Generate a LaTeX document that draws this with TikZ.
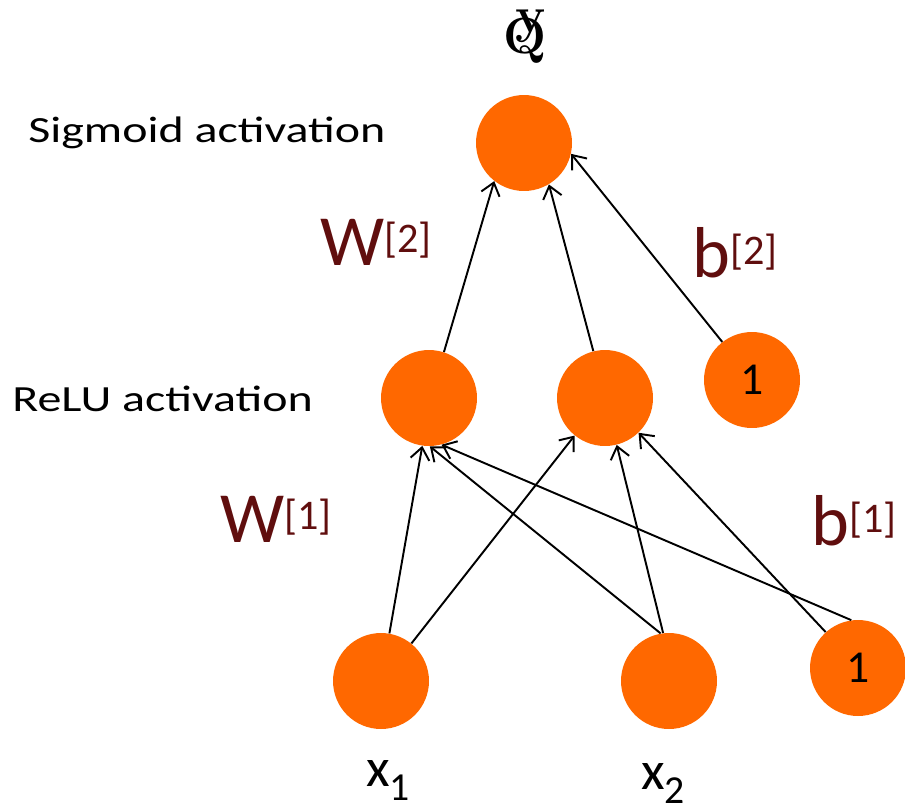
\documentclass[tikz,border=0pt]{standalone}
\usepackage{fontspec}
\usepackage{graphicx}
\newfontfamily\calibri{Carlito}
\usetikzlibrary{arrows.meta}
\definecolor{neuronorange}{RGB}{255,104,0}
\definecolor{paramred}{RGB}{96,14,14}
\newcommand{\prm}[2]{#1\raisebox{7pt}{\fontsize{24}{24}\selectfont[#2]}}
\newcommand{\inp}[1]{x\lower8pt\hbox{\fontsize{22.6}{22.6}\selectfont #1}}
\newcommand{\widetext}[1]{\scalebox{1.3}[1]{#1}}

\begin{document}
\begin{tikzpicture}[
                x=0.02cm, y=-0.02cm,
                neuron/.style={circle, fill=neuronorange, minimum size=1.92cm,
                    inner sep=0pt, font=\calibri\fontsize{26}{26}\selectfont},
                arrow/.style={-{Straight Barb[length=2.4mm, width=3.8mm]}, line width=1.1pt},
                note/.style={anchor=base west, inner sep=0pt,
                    font=\calibri\fontsize{21}{21}\selectfont},
                param/.style={anchor=base west, inner sep=0pt, text=paramred,
                    font=\calibri\fontsize{41}{41}\selectfont},
                inlabel/.style={anchor=base west, inner sep=0pt,
                    font=\calibri\fontsize{31}{31}\selectfont},
                glyph/.style={anchor=base, inner sep=0pt, font=\bfseries\fontsize{29}{29}\selectfont},
            ]
            \useasboundingbox (0,0) rectangle (905,808);

            % Nodes
            \node[neuron] (out) at (524,143) {};
            \node[neuron] (h1) at (429,398) {};
            \node[neuron] (h2) at (605,398) {};
            \node[neuron] (bh) at (752,380) {1};
            \node[neuron] (x1n) at (381,681) {};
            \node[neuron] (x2n) at (669,681) {};
            \node[neuron] (bx) at (858,668) {1};

            % Output symbol
            \node[glyph] (qmark) at (525,53) {Q};
            \node[glyph] (ymark) at (531,32) {y};

            % Arrows
            \draw[arrow] (x1n.80) -- (h1.-98);
            \draw[arrow] (x1n.51) -- (h2.-129);
            \draw[arrow] (x2n.100) -- (h1.-89);
            \draw[arrow] (x2n.97) -- (h2.-76);
            \draw[arrow] (bx.98) -- (h1.-75);
            \draw[arrow] (bx.132) -- (h2.-46);
            \draw[arrow] (h1.72) -- (out.-128);
            \draw[arrow] (h2.104) -- (out.-59);
            \draw[arrow] (bh.128) -- (out.-13);

            % Labels
            \node[note] (sig) at (28,142) {\widetext{Sigmoid activation}};
            \node[note] (relu) at (12,411) {\widetext{ReLU activation}};
            \node[param] (w2) at (320,265) {\prm{W}{2}};
            \node[param] (b2) at (692,277) {\prm{b}{2}};
            \node[param] (w1) at (220,542) {\prm{W}{1}};
            \node[param] (b1) at (811,545) {\prm{b}{1}};
            \node[inlabel] (x1lab) at (366,786) {\inp{1}};
            \node[inlabel] (x2lab) at (641,789) {\inp{2}};

            \end{tikzpicture}
\end{document}
